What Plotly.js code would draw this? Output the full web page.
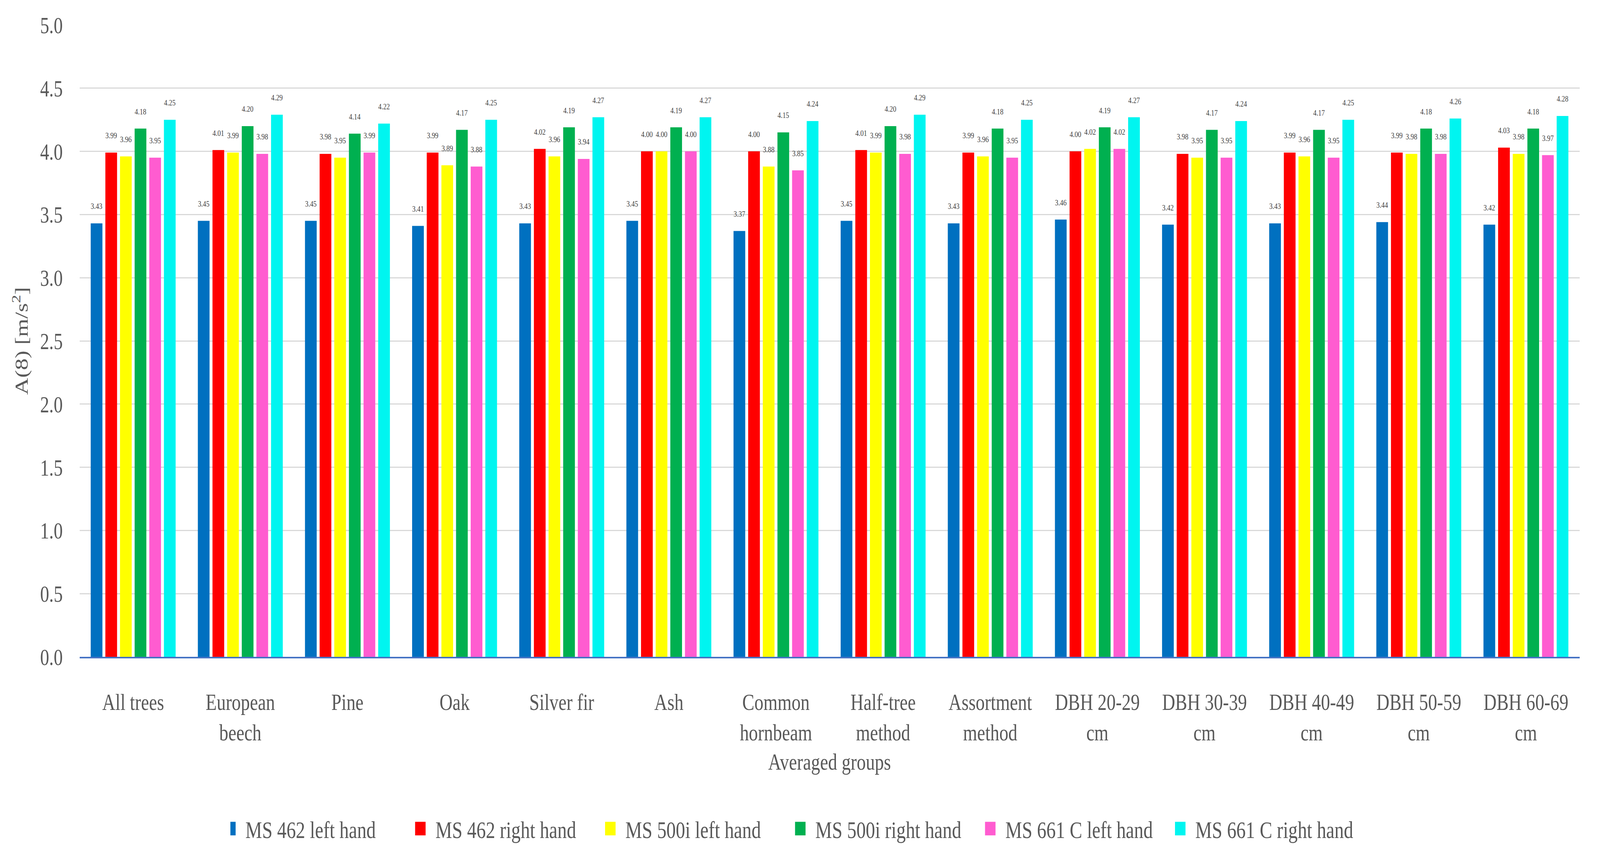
<!DOCTYPE html>
<html>
<head>
<meta charset="utf-8">
<script src="https://cdn.plot.ly/plotly-3.0.1.min.js"></script>
<style>html,body{margin:0;padding:0;background:#fff;overflow:hidden;}#chart{width:5306px;height:2210px;transform-origin:0 0;}</style>
</head>
<body>
<div id="chart"></div>
<script>
const categories = ["All trees", "European<br>beech", "Pine", "Oak", "Silver fir", "Ash", "Common<br>hornbeam", "Half-tree<br>method", "Assortment<br>method", "DBH 20-29<br>cm", "DBH 30-39<br>cm", "DBH 40-49<br>cm", "DBH 50-59<br>cm", "DBH 60-69<br>cm"];
const seriesNames = ["MS 462 left hand", "MS 462 right hand", "MS 500i left hand", "MS 500i right hand", "MS 661 C left hand", "MS 661 C right hand"];
const ms462Left  = [3.43, 3.45, 3.45, 3.41, 3.43, 3.45, 3.37, 3.45, 3.43, 3.46, 3.42, 3.43, 3.44, 3.42];
const ms462Right = [3.99, 4.01, 3.98, 3.99, 4.02, 4.00, 4.00, 4.01, 3.99, 4.00, 3.98, 3.99, 3.99, 4.03];
const ms500Left  = [3.96, 3.99, 3.95, 3.89, 3.96, 4.00, 3.88, 3.99, 3.96, 4.02, 3.95, 3.96, 3.98, 3.98];
const ms500Right = [4.18, 4.20, 4.14, 4.17, 4.19, 4.19, 4.15, 4.20, 4.18, 4.19, 4.17, 4.17, 4.18, 4.18];
const ms661Left  = [3.95, 3.98, 3.99, 3.88, 3.94, 4.00, 3.85, 3.98, 3.95, 4.02, 3.95, 3.95, 3.98, 3.97];
const ms661Right = [4.25, 4.29, 4.22, 4.25, 4.27, 4.27, 4.24, 4.29, 4.25, 4.27, 4.24, 4.25, 4.26, 4.28];
const yTicks = [0, 0.5, 1.0, 1.5, 2.0, 2.5, 3.0, 3.5, 4.0, 4.5, 5.0];

const allSeries = [ms462Left, ms462Right, ms500Left, ms500Right, ms661Left, ms661Right];
const colors = ["#0070C0", "#FF0000", "#FFFF00", "#00B050", "#FF5CD0", "#00F5F0"];
const FONT = "Liberation Serif, Times New Roman, serif";

const traces = allSeries.map((vals, i) => ({
  type: "bar",
  name: seriesNames[i],
  x: categories,
  y: vals,
  marker: {color: colors[i], line: {width: 0}},
  texttemplate: "%{y:.2f}<br> ",
  textposition: "outside",
  textangle: 0,
  constraintext: "none",
  cliponaxis: false,
  textfont: {family: FONT, size: 22, color: "#404040"},
  hoverinfo: "skip"
}));

const layout = {
  width: 5306,
  height: 2210,
  paper_bgcolor: "#ffffff",
  plot_bgcolor: "#ffffff",
  margin: {l: 264, r: 68, t: 64, b: 528, autoexpand: false},
  barmode: "group",
  bargap: 0.18,
  bargroupgap: 0.2,
  font: {family: FONT, size: 60, color: "#595959"},
  xaxis: {
    type: "category",
    showgrid: false,
    showline: true,
    linecolor: "#4472C4",
    linewidth: 4,
    ticks: "",
    tickangle: 0,
    ticklabelstandoff: 60,
    tickfont: {family: FONT, size: 60, color: "#595959"},
    title: {text: "Averaged groups", font: {family: FONT, size: 60, color: "#595959"}, standoff: 22}
  },
  yaxis: {
    range: [0, 5],
    tickvals: yTicks,
    tickformat: ".1f",
    showgrid: true,
    gridcolor: "#D9D9D9",
    gridwidth: 3,
    zeroline: false,
    showline: false,
    ticks: "",
    ticklabelstandoff: 55,
    tickfont: {family: FONT, size: 60, color: "#595959"},
    title: {text: "A(8) [m/s<sup>2</sup>]", font: {family: FONT, size: 60, color: "#595959"}, standoff: 20}
  },
  legend: {
    orientation: "h",
    x: 0.4805,
    xanchor: "center",
    y: -0.272,
    yanchor: "middle",
    font: {family: FONT, size: 62, color: "#595959"},
    itemwidth: 40,
    entrywidth: 575,
    entrywidthmode: "pixels",
    traceorder: "normal"
  },
  showlegend: true
};

function fit() {
  const w = window.innerWidth || 5306;
  const h = window.innerHeight || 2210;
  const sx = w / 5306, sy = h / 2210;
  const el = document.getElementById("chart");
  if (Math.abs(sx - 1) > 0.002 || Math.abs(sy - 1) > 0.002) {
    el.style.transform = "scale(" + sx + "," + sy + ")";
  }
}

Plotly.newPlot("chart", traces, layout, {displayModeBar: false, staticPlot: true}).then(() => {
  document.querySelectorAll("#chart .legend .legendpoints path").forEach(p => {
    p.setAttribute("transform", "scale(2.9)");
  });
  fit();
});
</script>
</body>
</html>
